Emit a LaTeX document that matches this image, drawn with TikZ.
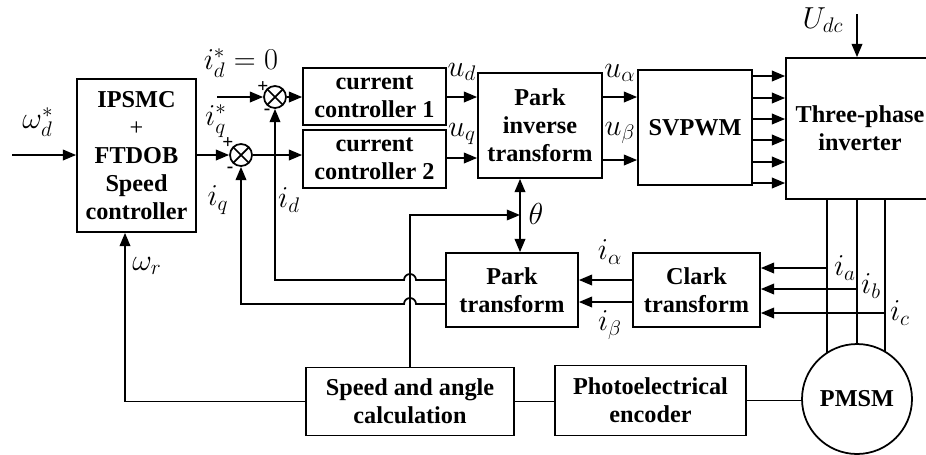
\documentclass[tikz,border=0pt]{standalone}
\usepackage{fontspec}
\setmainfont{Liberation Serif}
\usetikzlibrary{arrows.meta}
\tikzset{
	blk/.style={draw, line width=1pt, align=center, inner sep=1pt, font=\bfseries\fontsize{13.8}{16}\selectfont},
	sumnode/.style={circle, draw, line width=1pt, minimum size=0.44cm, inner sep=0pt,
		path picture={\draw[line width=1pt] (path picture bounding box.north west) -- (path picture bounding box.south east)
			(path picture bounding box.north east) -- (path picture bounding box.south west);}},
	lbl/.style={inner sep=0pt, font=\fontsize{17}{20}\selectfont},
	sgn/.style={inner sep=0pt, font=\bfseries\fontsize{11}{12}\selectfont}
}

\begin{document}
\begin{tikzpicture}[x=0.02cm, y=-0.02cm, >={Triangle[length=7.5pt,width=6pt]}, line width=1pt]
		\useasboundingbox (0,0) rectangle (926,454);
		% blocks
		\node[blk, minimum width=2.38cm, minimum height=3.06cm] (spd) at (136.5,155.5) {IPSMC\\{\mdseries +}\\FTDOB\\Speed\\controller};
		\node[blk, minimum width=2.86cm, minimum height=1.14cm] (cc1) at (374.5,96.5) {current\\controller 1};
		\node[blk, minimum width=2.86cm, minimum height=1.16cm] (cc2) at (374.5,159) {current\\controller 2};
		\node[blk, minimum width=2.48cm, minimum height=2.1cm] (pinv) at (540,125.5) {Park\\inverse\\transform};
		\node[blk, minimum width=2.28cm, minimum height=2.3cm] (svp) at (695,127.5) {SVPWM};
		\node[blk, minimum width=2.96cm, minimum height=2.82cm] (inv) at (860,128.5) {Three-phase\\inverter};
		\node[blk, minimum width=2.64cm, minimum height=1.48cm] (park) at (512,290) {Park\\transform};
		\node[blk, minimum width=2.54cm, minimum height=1.48cm] (clark) at (696.5,290) {Clark\\transform};
		\node[blk, minimum width=4.16cm, minimum height=1.36cm] (spa) at (410,401.5) {Speed and angle\\calculation};
		\node[blk, minimum width=3.82cm, minimum height=1.4cm] (enc) at (650.5,400.5) {Photoelectrical\\encoder};
		\node[sumnode] (s1) at (275,97) {};
		\node[sumnode] (s2) at (241,155) {};
		\node[sgn] at (263,87) {+};
		\node[sgn] at (267,112) {-};
		\node[sgn] at (228,143) {+};
		\node[sgn] at (230,170) {-};

		% forward path
		\coordinate (win) at (12,155);
		\coordinate (idref) at (217,97);
		\draw[->] (win) -- (win -| spd.west);
		\draw[->] (spd.east |- s2) -- (s2.west);
		\draw[->] (idref) -- (s1.west);
		\draw[->] (s1.east) -- (s1 -| cc1.west);
		\draw[->] (s2.east) -- (s2 -| cc2.west);
		\draw[->] (cc1.east |- 0,97) -- (pinv.west |- 0,97);
		\draw[->] (cc2.east |- 0,158) -- (pinv.west |- 0,158);
		\foreach \y in {97,160}
			\draw[->] (pinv.east |- 0,\y) -- (svp.west |- 0,\y);
		\foreach \y in {76,98,119,140,162,183}
			\draw[->] (svp.east |- 0,\y) -- (inv.west |- 0,\y);
		\coordinate (udc) at (857,14);
		\draw[->] (udc) -- (udc |- inv.north);

		% motor and current sensing
		\foreach \x in {827,857,885}
			\draw (\x,0 |- inv.south) -- (\x,399);
		\node[draw, circle, fill=white, line width=1pt, minimum size=2.2cm, inner sep=0pt,
			font=\bfseries\fontsize{13.8}{16}\selectfont] (pmsm) at (857,399) {PMSM};
		\foreach \x/\y in {827/268, 857/289, 885/313}
			\draw[->] (\x,\y) -- (clark.east |- 0,\y);
		\foreach \y in {280,302}
			\draw[->] (clark.west |- 0,\y) -- (park.east |- 0,\y);
		\draw[->] (park.west |- 0,280) -- (416,280) arc (0:-180:6) -- (275,280) -- (s1.south);
		\draw[->] (park.west |- 0,304) -- (416,304) arc (0:-180:6) -- (241,304) -- (s2.south);

		% angle and speed feedback
		\coordinate (th) at (520,215);
		\draw[<->] (520,0 |- pinv.south) -- (520,0 |- park.north);
		\draw[->] (spa.north) |- (th);
		\draw (spa.east) -- (spa.east -| enc.west);
		\draw (enc.east) -- (enc.east -| pmsm.west);
		\draw[->] (spa.west) -| ([xshift=-0.23cm]spd.south);

		% labels
		\node[lbl] at (38,122) {$\omega_d^*$};
		\node[lbl] at (241,63) {$i_d^*=0$};
		\node[lbl] at (216,121) {$i_q^*$};
		\node[lbl] at (218,200) {$i_q$};
		\node[lbl] at (289,200) {$i_d$};
		\node[lbl] at (462,72) {$u_d$};
		\node[lbl] at (462,134) {$u_q$};
		\node[lbl] at (620,73) {$u_\alpha$};
		\node[lbl] at (620,133) {$u_\beta$};
		\node[lbl] at (823,20) {$U_{dc}$};
		\node[lbl] at (536,214) {$\theta$};
		\node[lbl] at (147,266) {$\omega_r$};
		\node[lbl] at (610,252) {$i_\alpha$};
		\node[lbl] at (610,325) {$i_\beta$};
		\node[lbl] at (845,268) {$i_a$};
		\node[lbl] at (871,286) {$i_b$};
		\node[lbl] at (900,313) {$i_c$};
	\end{tikzpicture}
\end{document}
